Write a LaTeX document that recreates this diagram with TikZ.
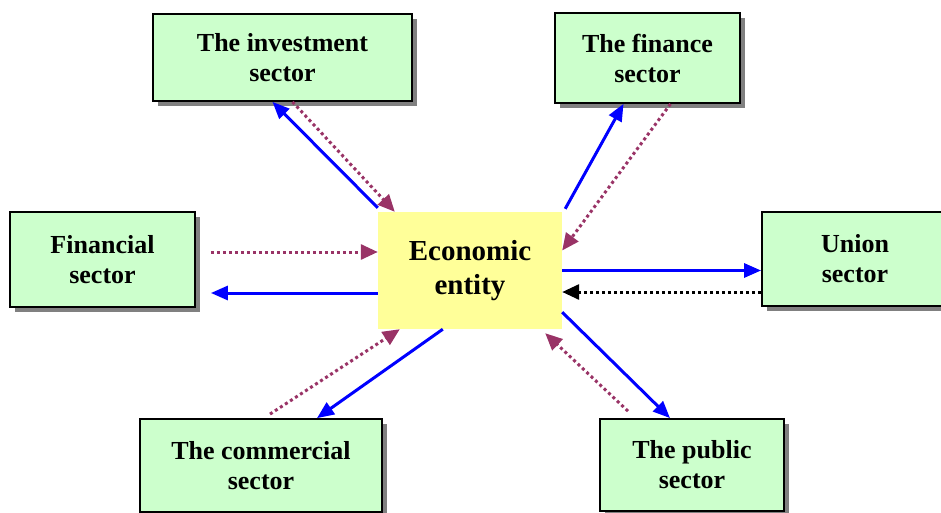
\documentclass[tikz,border=0pt]{standalone}
\usepackage{fontspec}
\setmainfont{Liberation Serif}
\usetikzlibrary{arrows.meta,shadows}

\definecolor{boxgreen}{HTML}{CCFFCC}
\definecolor{boxyellow}{HTML}{FFFF99}
\definecolor{flowblue}{HTML}{0000FF}
\definecolor{flowpurple}{HTML}{993366}
\definecolor{shadowgray}{HTML}{808080}

\tikzset{
    sector/.style={draw=black, line width=1.8pt, fill=boxgreen, align=center,
            font=\fontsize{26}{30}\selectfont\bfseries,
            drop shadow={shadow xshift=5pt, shadow yshift=-5pt, fill=shadowgray, opacity=1}},
    entity/.style={fill=boxyellow, align=center, minimum width=184pt, minimum height=117pt,
            font=\fontsize{29}{34}\selectfont\bfseries},
    flow/.style={flowblue, line width=3pt, -{Triangle[length=17pt,width=14pt]}},
    back/.style={flowpurple, line width=3pt, dash pattern=on 3pt off 3pt,
            -{Triangle[length=17pt,width=15pt]}},
    backblack/.style={back, black}
}

\begin{document}
\begin{tikzpicture}[x=1pt,y=-1pt]
                \useasboundingbox (0,0) rectangle (941,513);

                \node[entity] (eco) at (470,270.5) {Economic\\entity};

                \node[sector, minimum width=259pt, minimum height=87pt] (inv) at (282.5,57.5) {The investment\\sector};
                \node[sector, minimum width=185pt, minimum height=90pt] (fin) at (647.5,58) {The finance\\sector};
                \node[sector, minimum width=185pt, minimum height=95pt] (fcl) at (102.5,259.5) {Financial\\sector};
                \node[sector, minimum width=186pt, minimum height=94pt] (uni) at (855,259) {Union\\sector};
                \node[sector, minimum width=242pt, minimum height=93pt] (com) at (261,465.5) {The commercial\\sector};
                \node[sector, minimum width=184pt, minimum height=92pt] (pub) at (692,465) {The public\\sector};

                % investment
                \draw[flow] ([yshift=4pt]eco.north west) -- ([xshift=-10pt]inv.south);
                \draw[back] ([xshift=10pt]inv.south) -- ([xshift=17pt]eco.north west);
                % finance
                \draw[flow] ([shift={(3pt,3pt)}]eco.north east) -- ([xshift=-24pt]fin.south);
                \draw[back] ([xshift=23pt]fin.south) -- ([yshift=20pt]eco.east);
                % financial
                \draw[back] ([shift={(15pt,7.5pt)}]fcl.east) -- ([yshift=18.5pt]eco.west);
                \draw[flow] ([yshift=-22.5pt]eco.west) -- ([shift={(15pt,-33.5pt)}]fcl.east);
                % union
                \draw[flow] (eco.east) -- (eco.east -| uni.west);
                \draw[backblack] ([yshift=-21.5pt]eco.east -| uni.west) -- ([yshift=-21.5pt]eco.east);
                % commercial
                \draw[back] ([shift={(9pt,4pt)}]com.north) -- ([xshift=22pt]eco.south west);
                \draw[flow] ([xshift=65pt]eco.south west) -- ([xshift=56pt]com.north);
                % public
                \draw[flow] ([yshift=17pt]eco.south east) -- ([xshift=-22pt]pub.north);
                \draw[back] ([shift={(-64pt,7pt)}]pub.north) -- ([shift={(-17pt,-4pt)}]eco.south east);
            \end{tikzpicture}
\end{document}
